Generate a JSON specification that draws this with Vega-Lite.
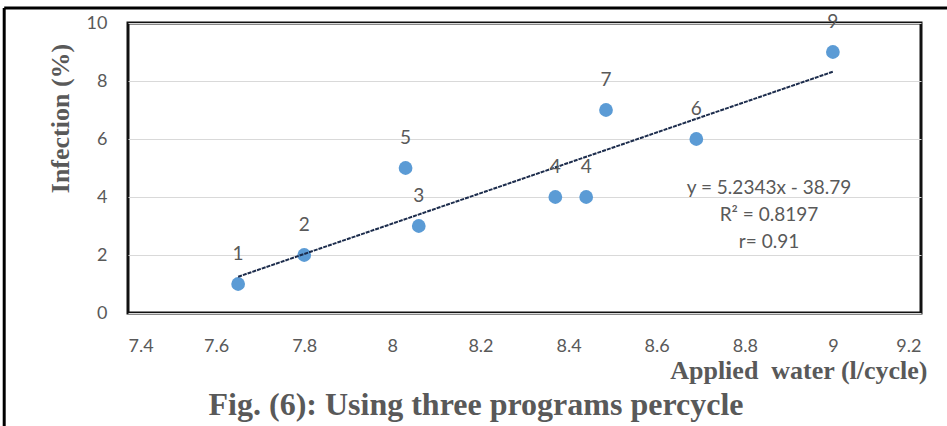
{
  "$schema": "https://vega.github.io/schema/vega-lite/v6.json",
  "width": 793,
  "height": 290,
  "autosize": "none",
  "padding": {"left": 128, "top": 23, "right": 26, "bottom": 113},
  "background": "white",
  "config": {
    "view": {"stroke": "#111111", "strokeWidth": 3},
    "axis": {"labelFont": "Lato", "labelFontSize": 18, "labelColor": "#595959", "ticks": false, "domain": false, "titleFont": "Liberation Serif", "titleFontWeight": "bold", "titleColor": "#595959", "titleFontSize": 26}
  },
  "datasets": {
    "pts": [
      {"water": 7.65, "infection": 1, "label": "1"},
      {"water": 7.8, "infection": 2, "label": "2"},
      {"water": 8.03, "infection": 5, "label": "5"},
      {"water": 8.06, "infection": 3, "label": "3"},
      {"water": 8.37, "infection": 4, "label": "4"},
      {"water": 8.44, "infection": 4, "label": "4"},
      {"water": 8.485, "infection": 7, "label": "7"},
      {"water": 8.69, "infection": 6, "label": "6"},
      {"water": 9.0, "infection": 9, "label": "9"}
    ],
    "trend": [
      {"water": 7.65, "infection": 1.25},
      {"water": 9.0, "infection": 8.32}
    ],
    "eq": [
      {"water": 8.855, "infection": 4.31, "text": "y = 5.2343x - 38.79"},
      {"water": 8.855, "infection": 3.38, "text": "R² = 0.8197"},
      {"water": 8.855, "infection": 2.45, "text": "r= 0.91"}
    ],
    "frame": [{"name": "outer frame"}]
  },
  "layer": [
    {"data": {"name": "pts"}, "mark": {"type": "point", "filled": true, "opacity": 1, "size": 190, "color": "#5b9bd5"},
      "encoding": {
        "x": {"field": "water", "type": "quantitative", "scale": {"domain": [7.4, 9.2], "nice": false, "zero": false},
          "axis": {"values": [7.4, 7.6, 7.8, 8, 8.2, 8.4, 8.6, 8.8, 9, 9.2], "grid": false, "labelPadding": 24, "labelExpr": "datum.value == 8 || datum.value == 9 ? format(datum.value, 'd') : format(datum.value, '.1f')", "title": "Applied\u00a0 water (l/cycle)", "titleAlign": "right", "titleAnchor": "end", "titleBaseline": "alphabetic", "titleX": 799, "titleY": 65}},
        "y": {"field": "infection", "type": "quantitative", "scale": {"domain": [0, 10], "nice": false},
          "axis": {"values": [0, 2, 4, 6, 8, 10], "grid": true, "gridColor": "#d9d9d9", "gridWidth": 1, "labelPadding": 21, "title": "Infection (%)", "titleAngle": -90, "titleAlign": "center", "titleBaseline": "middle", "titleX": -68, "titleY": 95}}
      }},
    {"data": {"name": "trend"}, "mark": {"type": "line", "color": "#1c2c4c", "strokeWidth": 2, "strokeDash": [4, 1]},
      "encoding": {"x": {"field": "water", "type": "quantitative"}, "y": {"field": "infection", "type": "quantitative"}}},
    {"data": {"name": "pts"}, "mark": {"type": "text", "dy": -30, "font": "Lato", "fontSize": 19, "color": "#595959", "clip": false},
      "encoding": {"x": {"field": "water", "type": "quantitative"}, "y": {"field": "infection", "type": "quantitative"}, "text": {"field": "label"}}},
    {"data": {"name": "eq"}, "mark": {"type": "text", "font": "Lato", "fontSize": 19, "color": "#595959"},
      "encoding": {"x": {"field": "water", "type": "quantitative"}, "y": {"field": "infection", "type": "quantitative"}, "text": {"field": "text"}}},
    {"data": {"name": "frame"}, "mark": {"type": "rule", "color": "black", "strokeWidth": 3, "clip": false},
      "encoding": {"x": {"datum": 7.119, "type": "quantitative"}, "y": {"datum": 10.52, "type": "quantitative"}, "y2": {"datum": -4}}},
    {"data": {"name": "frame"}, "mark": {"type": "rule", "color": "black", "strokeWidth": 3, "clip": false},
      "encoding": {"x": {"datum": 7.119, "type": "quantitative"}, "x2": {"datum": 9.26}, "y": {"datum": 10.52, "type": "quantitative"}}},
    {"data": {"name": "frame"}, "mark": {"type": "text", "font": "Liberation Serif", "fontWeight": "bold", "fontSize": 32, "color": "#595959", "align": "center", "baseline": "middle", "clip": false, "text": "Fig. (6): Using three programs percycle"},
      "encoding": {"x": {"datum": 8.19, "type": "quantitative"}, "y": {"datum": -3.17, "type": "quantitative"}}}
  ]
}
